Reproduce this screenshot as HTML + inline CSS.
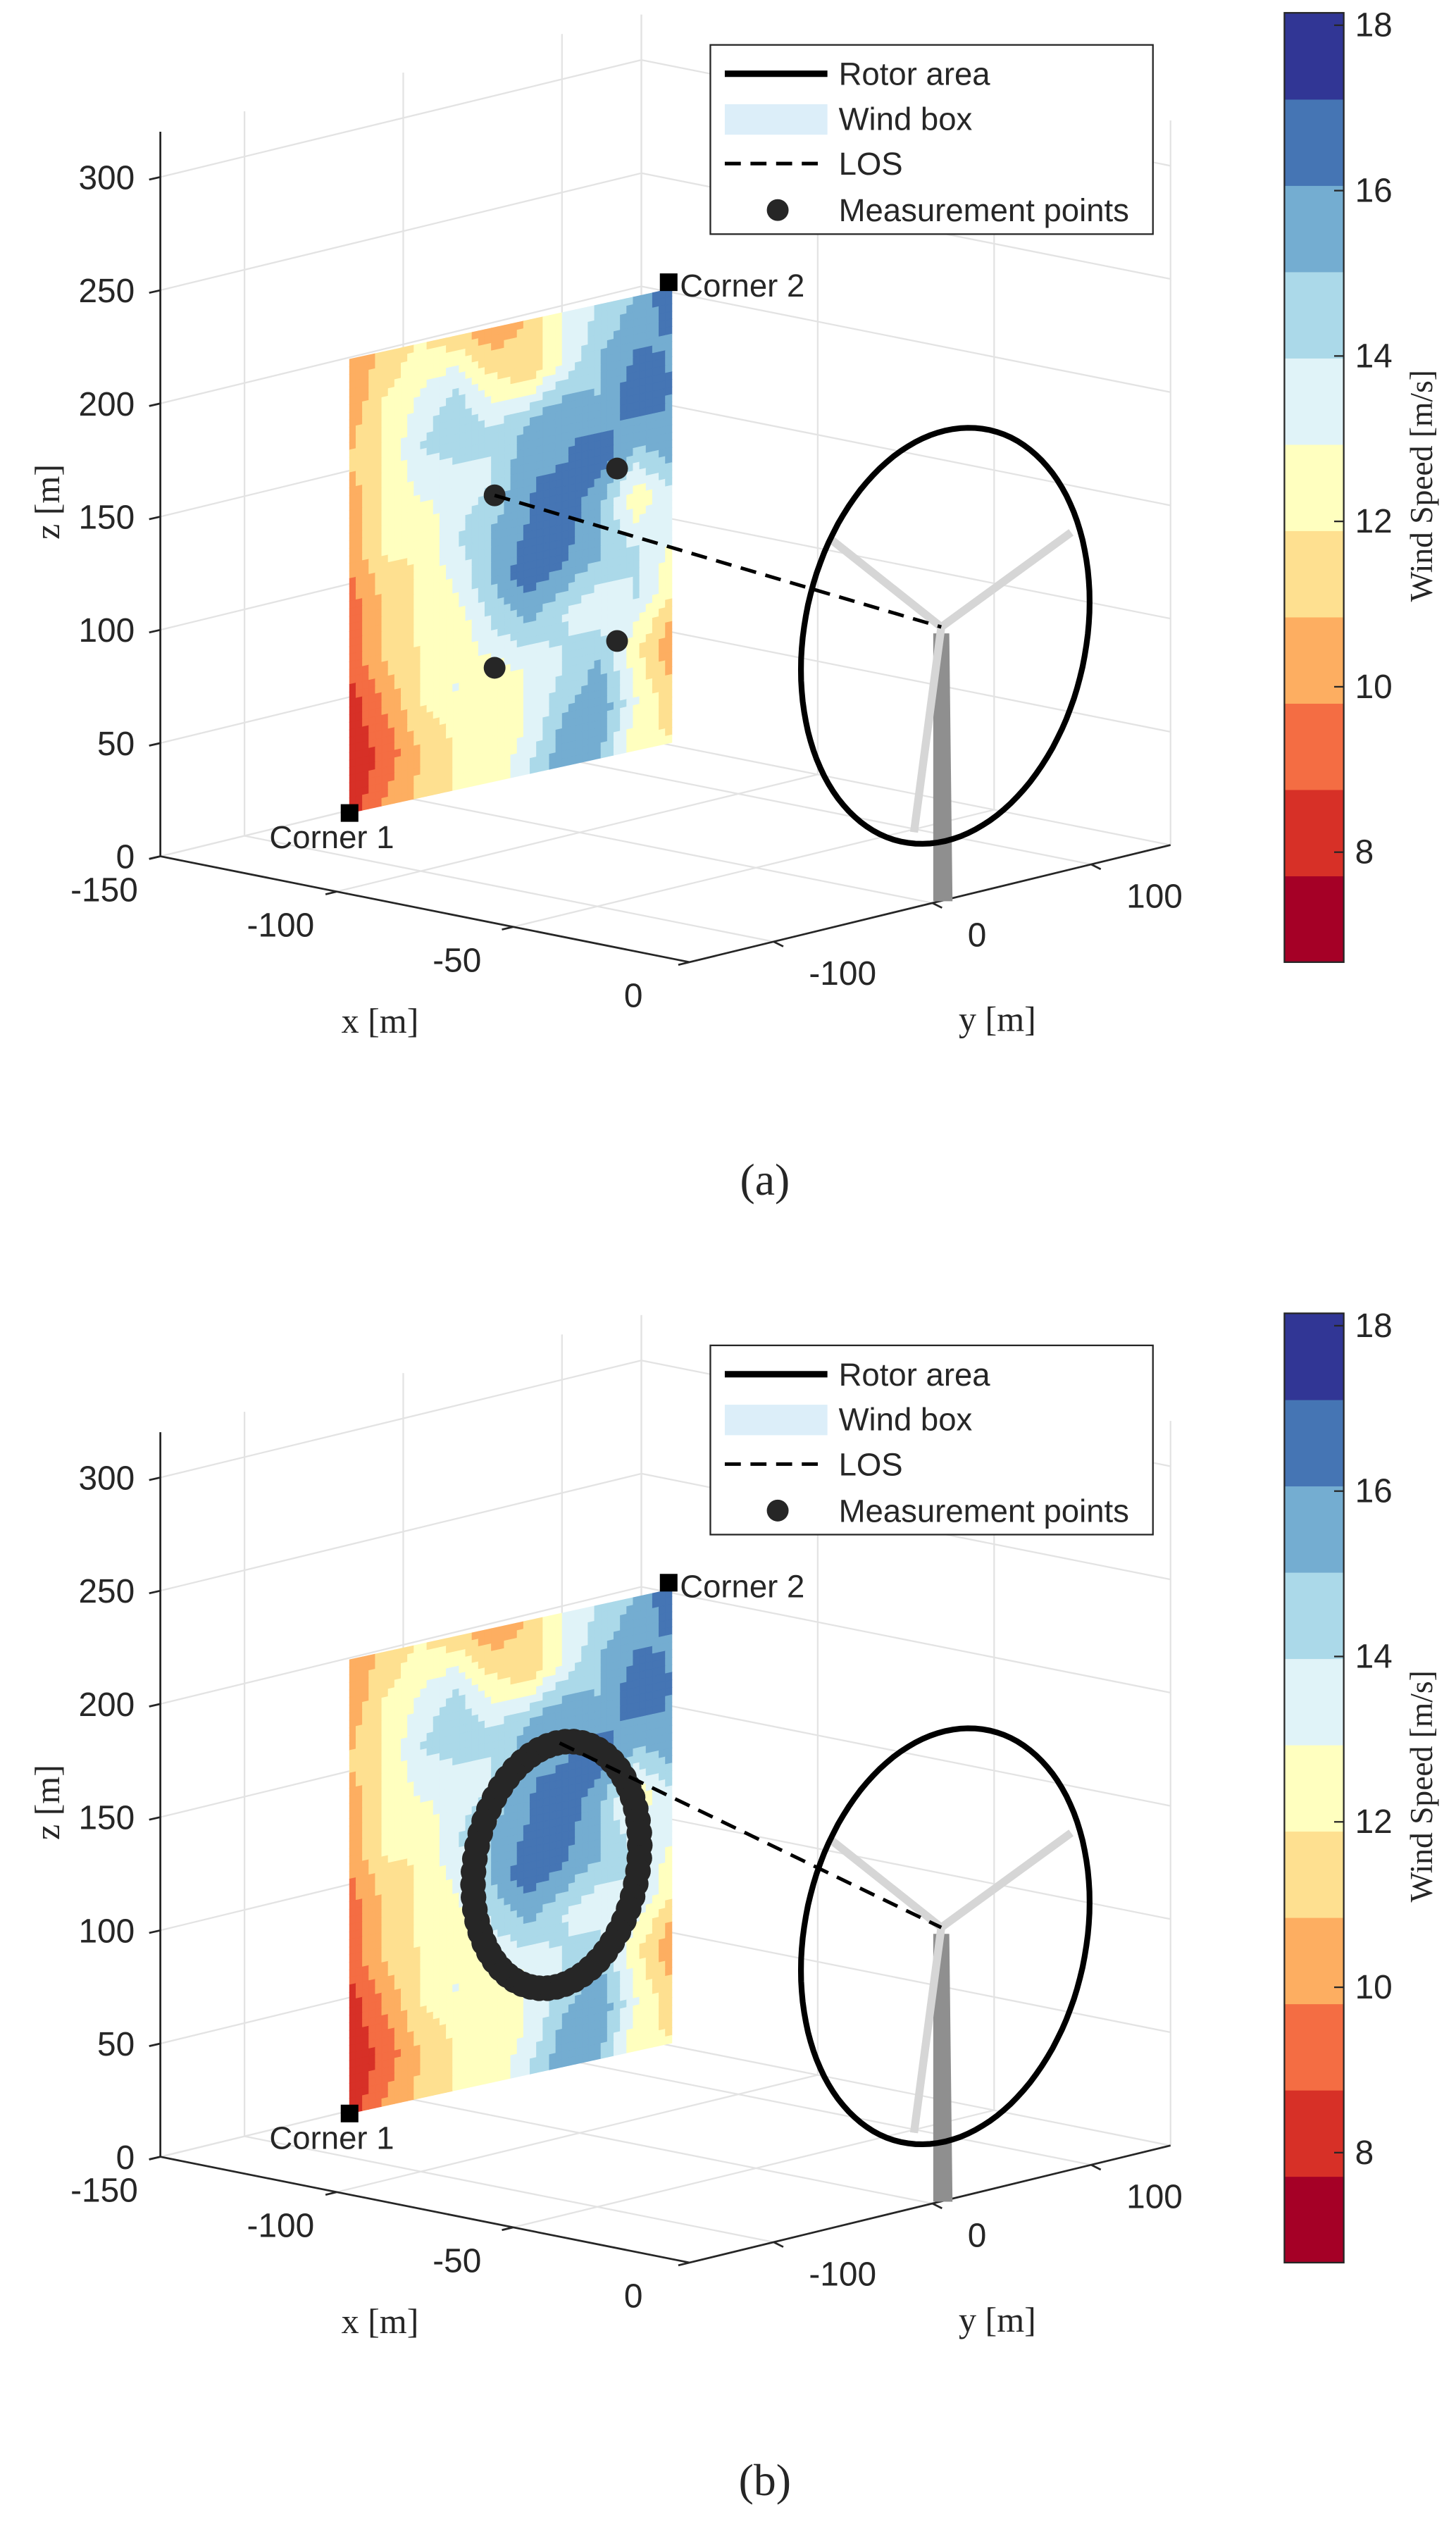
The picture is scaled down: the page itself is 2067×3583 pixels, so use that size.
<!DOCTYPE html>
<html><head><meta charset="utf-8"><style>
html,body{margin:0;padding:0;background:#fff;}
svg{display:block;}
text{font-family:"Liberation Sans",sans-serif;fill:#262626;}
.serif{font-family:"Liberation Serif",serif;}
</style></head><body>
<svg id="fig" xmlns="http://www.w3.org/2000/svg" width="2067" height="3583" viewBox="0 0 908 1574" preserveAspectRatio="none">
<rect width="908" height="1574" fill="#fff"/>
</svg>
<script>
// ---- data ----
const xTicks = [-150, -100, -50, 0];
const yTicks = [-100, 0, 100];
const zTicks = [0, 50, 100, 150, 200, 250, 300];
const cbTicks = [8, 10, 12, 14, 16, 18];
const cbRange = [6.67, 18.15];
const bandColors = ["#a50026","#d73027","#f46d43","#fdae61","#fee090","#ffffbf","#e0f3f8","#abd9e9","#74add1","#4575b4","#313695"];
// wind speed field (rows top->bottom, cols left->right), m/s
const windField = [
 [10,11,12,11,10,11,13,14,15,17],
 [10,12,13,14,12,11,13,15,16,16],
 [11,12,14,15,14,15,16,15,17,16],
 [10,12,13,13,14,16,16,17,15,16],
 [10,12,12,14,15,16,17,15,12,14],
 [9,11,12,13,15,17,16,15,14,13],
 [9,11,12,12,14,15,14,13,14,12],
 [8,10,12,13,12,13,14,15,12,10],
 [8,9,11,12,12,13,15,16,13,11],
 [8,10,11,12,12,14,16,15,12,12]
];
// panel (a): 4 measurement points, plane coords (u,v in 0..1)
const measU = [0.45, 0.83, 0.45, 0.83];
const measV = [0.37, 0.37, 0.75, 0.75];
// panel (b): circular scan
const scanCount = 60;
const scanCenterPx = [347, 352];
const scanRadius = [52, 76];

const NS = "http://www.w3.org/2000/svg";
const svg = document.getElementById('fig');
function el(tag, attrs, parent){
  const e = document.createElementNS(NS, tag);
  for (const k in attrs) e.setAttribute(k, attrs[k]);
  (parent||svg).appendChild(e); return e;
}
function proj(x,y,z){
  return [100 + (x+150)*2.2 + (y+153)*0.99, 534 + (x+150)*0.44 - (y+153)*0.241 - z*1.412];
}
const ZMAX = 320, YMIN=-153, YMAX=150;
function plane(u,v){ return [218 + u*201, 224 + v*283 - u*44]; }
function colorFor(v){
  let i = Math.floor((v - cbRange[0]) / ((cbRange[1]-cbRange[0])/bandColors.length));
  return bandColors[Math.max(0, Math.min(bandColors.length-1, i))];
}
function sample(u,v){
  const R = windField.length-1, C = windField[0].length-1;
  const fr = v*R, fc = u*C;
  const r0 = Math.min(Math.floor(fr), R-1), c0 = Math.min(Math.floor(fc), C-1);
  const tr = fr-r0, tc = fc-c0;
  const a = windField[r0][c0], b = windField[r0][c0+1], c = windField[r0+1][c0], d = windField[r0+1][c0+1];
  return (a*(1-tc)+b*tc)*(1-tr) + (c*(1-tc)+d*tc)*tr;
}
function line(g,p1,p2,attrs){ return el('line', Object.assign({x1:p1[0],y1:p1[1],x2:p2[0],y2:p2[1]},attrs), g); }

function panel(offY, mode){
  const g = el('g', {transform:`translate(0,${offY})`});
  
  
  const grid = el('g', {stroke:'#e3e3e3','stroke-width':1,fill:'none'}, g);
  
  
  [YMIN, ...yTicks, YMAX].forEach(y=> line(grid, proj(-150,y,0), proj(-150,y,ZMAX)));
  zTicks.forEach(z=> line(grid, proj(-150,YMIN,z), proj(-150,YMAX,z)));
  xTicks.forEach(x=> line(grid, proj(x,YMAX,0), proj(x,YMAX,ZMAX)));
  zTicks.forEach(z=> line(grid, proj(-150,YMAX,z), proj(0,YMAX,z)));
  xTicks.forEach(x=> line(grid, proj(x,YMIN,0), proj(x,YMAX,0)));
  yTicks.forEach(y=> line(grid, proj(-150,y,0), proj(0,y,0)));

  const ax = el('g', {stroke:'#262626','stroke-width':1.2}, g);
  
  
  line(ax, proj(-150,YMIN,0), proj(-150,YMIN,ZMAX));
  line(ax, proj(-150,YMIN,0), proj(0,YMIN,0));
  line(ax, proj(0,YMIN,0), proj(0,YMAX,0));
  zTicks.forEach(z=>{
    const p = proj(-150,YMIN,z);
    line(ax, p, [p[0]-7, p[1]+1.6]);
    const t = el('text', {x:84, y:p[1]+7.5, 'text-anchor':'end','font-size':21}, g);
    t.textContent = z;
    
    
  });
  xTicks.forEach(x=>{
    const p = proj(x,YMIN,0);
    line(ax, p, [p[0]-7, p[1]+1.7]);
    const t = el('text', {x:p[0]-35, y:p[1]+28, 'text-anchor':'middle','font-size':21}, g);
    t.textContent = x;
    
    
  });
  yTicks.forEach(y=>{
    const p = proj(0,y,0);
    line(ax, p, [p[0]+6, p[1]+3]);
    const t = el('text', {x:p[0]+22, y:p[1]+27, 'text-anchor':'start','font-size':21}, g);
    t.textContent = y;
    
    
  });
  const zl = el('text', {x:0,y:0,'font-size':22,'text-anchor':'middle',transform:'translate(37,313) rotate(-90)',class:'serif'}, g);
  zl.textContent = 'z [m]';
  
  
  const xl = el('text', {x:237,y:644,'font-size':22,'text-anchor':'middle',class:'serif'}, g);
  xl.textContent = 'x [m]';
  
  
  const yl = el('text', {x:622,y:643,'font-size':22,'text-anchor':'middle',class:'serif'}, g);
  yl.textContent = 'y [m]';
  
  

  const wf = el('g', {}, g);
  
  
  const N = 50, M = 60;
  for (let i=0;i<M;i++) for (let j=0;j<N;j++){
    const u0=j/N, u1=(j+1)/N, v0=i/M, v1=(i+1)/M;
    const c = colorFor(sample((u0+u1)/2, (v0+v1)/2));
    const pts = [plane(u0,v0),plane(u1,v0),plane(u1,v1),plane(u0,v1)].map(p=>p.join(',')).join(' ');
    const cell = el('polygon', {points:pts, fill:c, stroke:c, 'stroke-width':0.4}, wf);
    
    
  }

  const hub = [587, 391];
  const tower = el('polygon', {points:'582,395 592,395 594,562 582,562', fill:'#8f8f8f'}, g);
  
  
  [[519,337],[668,332],[570,519]].forEach(b=>{
    const bl = line(g, hub, b, {stroke:'#d6d6d6','stroke-width':5,'stroke-linecap':'butt'});
    
    
  });
  let d = '';
  for (let k=0;k<=120;k++){
    const t = k/120*2*Math.PI, u = 90*Math.cos(t), v = 128*Math.sin(t);
    d += (k?'L':'M') + (589.5+u).toFixed(1)+','+(396.5+v-0.236*u).toFixed(1);
  }
  const rot = el('path', {d:d+'Z', fill:'none', stroke:'#000','stroke-width':3.6}, g);
  
  

  const mg = el('g', {fill:'#262626'}, g);
  
  
  let losStart;
  if (mode==='a'){
    measU.forEach((u,i)=>{
      const p = plane(u, measV[i]);
      const c = el('circle', {cx:p[0], cy:p[1], r:6.8}, mg);
      
      
    });
    losStart = plane(measU[0], measV[0]);
  } else {
    const cx = scanCenterPx[0], cy = scanCenterPx[1];
    for (let k=0;k<scanCount;k++){
      const t = k/scanCount*2*Math.PI, u = scanRadius[0]*Math.cos(t), v = scanRadius[1]*Math.sin(t);
      const c = el('circle', {cx:cx+u, cy:cy+v-0.236*u, r:8}, mg);
      
      
    }
    losStart = [cx+2, cy-76];
  }
  const los = line(g, losStart, hub, {stroke:'#000','stroke-width':2.2,'stroke-dasharray':'10,6'});
  
  

  [[218,507,'Corner 1',168,529],[417,176,'Corner 2',424,185]].forEach(c=>{
    const r = el('rect', {x:c[0]-5.5,y:c[1]-5.5,width:11,height:11,fill:'#000'}, g);
    
    
    const t = el('text', {x:c[3],y:c[4],'font-size':20,fill:'#000'}, g);
    t.textContent = c[2];
    
    
  });

  const lg = el('g', {}, g);
  
  
  el('rect', {x:443,y:28,width:276,height:118,fill:'#fff',stroke:'#262626','stroke-width':1}, lg);
  line(lg,[452,46],[516,46],{stroke:'#000','stroke-width':4});
  el('rect', {x:452,y:65,width:64,height:19,fill:'#dceef9'}, lg);
  line(lg,[452,102],[516,102],{stroke:'#000','stroke-width':2.2,'stroke-dasharray':'10,6'});
  el('circle', {cx:485,cy:131,r:6.8,fill:'#262626'}, lg);
  ['Rotor area','Wind box','LOS','Measurement points'].forEach((s,i)=>{
    const t = el('text', {x:523,y:[53,81,109,138][i],'font-size':20,fill:'#000'}, lg);
    t.textContent = s;
    
    
  });

  const cb = el('g', {}, g);
  
  
  const top = 8, bot = 600, n = bandColors.length, h = (bot-top)/n;
  bandColors.forEach((c,i)=>{
    const r = el('rect', {x:801,y:bot-(i+1)*h,width:37,height:h+0.3,fill:c}, cb);
    
    
  });
  el('rect', {x:801,y:top,width:37,height:bot-top,fill:'none',stroke:'#262626','stroke-width':1}, cb);
  const vy = v => bot - (v-cbRange[0])/(cbRange[1]-cbRange[0])*(bot-top);
  cbTicks.forEach(v=>{
    const y = vy(v);
    line(cb,[832,y],[838,y],{stroke:'#262626','stroke-width':1});
    const t = el('text', {x:845,y:y+7,'font-size':21}, cb);
    t.textContent = v;
    
    
  });
  const ct = el('text', {x:0,y:0,'font-size':20,'text-anchor':'middle',class:'serif',transform:'translate(893,303) rotate(-90)'}, cb);
  ct.textContent = 'Wind Speed [m/s]';
  
  

  const cap = el('text', {x:477,y:745,'font-size':28,'text-anchor':'middle',class:'serif',fill:'#000'}, g);
  cap.textContent = mode==='a' ? '(a)' : '(b)';
  
  
}
panel(0,'a');
panel(811,'b');
</script>
</body></html>
